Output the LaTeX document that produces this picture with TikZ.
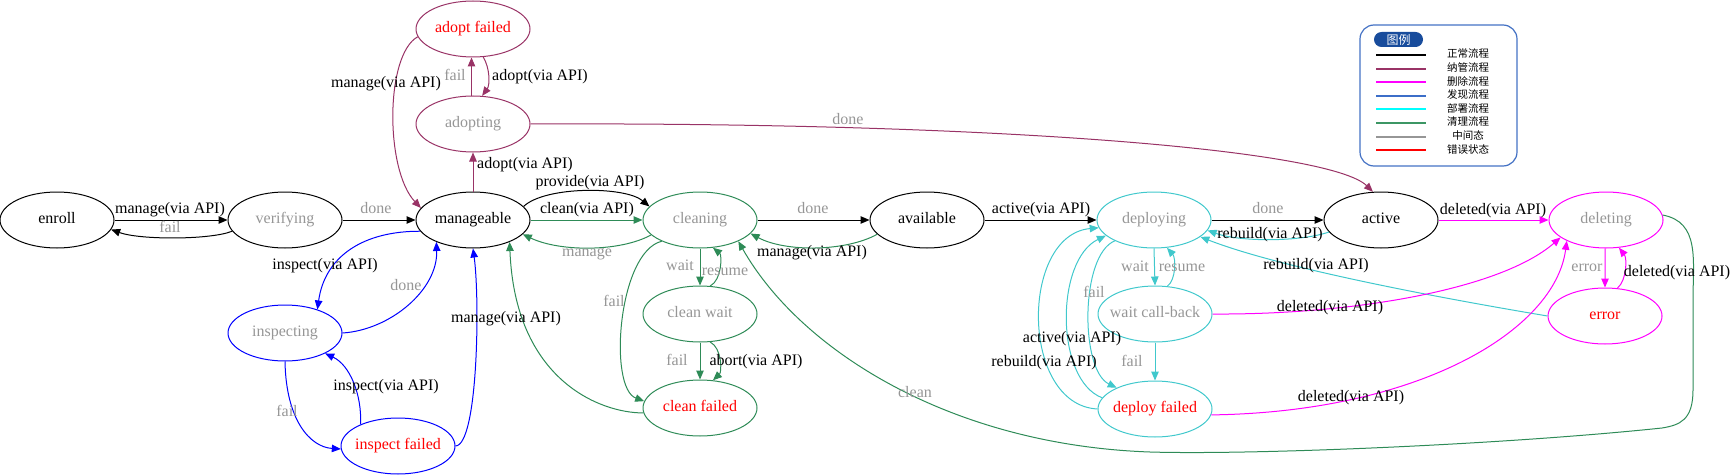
\documentclass[tikz,border=0pt]{standalone}
\usepackage{fontspec}
\setmainfont{Liberation Serif}
\newfontfamily\cjkfont{Noto Sans CJK SC}
\usetikzlibrary{shapes.geometric,arrows.meta}
\definecolor{cpurple}{RGB}{153,51,102}
\definecolor{cgreen}{RGB}{46,139,87}
\definecolor{ccyan}{RGB}{64,200,204}
\definecolor{cblue}{RGB}{0,0,255}
\definecolor{cmag}{RGB}{255,0,255}
\definecolor{cgray}{RGB}{150,150,150}
\definecolor{cred}{RGB}{255,0,0}
\definecolor{lgblue}{RGB}{60,110,200}
\definecolor{lgframe}{RGB}{68,114,196}
\definecolor{lgtitle}{RGB}{24,76,156}
\definecolor{lggreen}{RGB}{60,150,100}
\definecolor{lgcyan}{RGB}{0,255,255}
\begin{document}
\begin{tikzpicture}[x=1pt,y=-1pt,
  st/.style={ellipse, draw=#1, line width=1pt, minimum width=114pt, minimum height=56pt,
    inner sep=0pt, text height=11pt, text depth=3.5pt, font=\fontsize{16}{18}\selectfont},
  st/.default=black,
  ed/.style={draw=#1, line width=1pt, -{Triangle[length=9pt,width=7.5pt]}},
  lb/.style={font=\fontsize{16}{18}\selectfont, inner sep=0pt, text height=11pt, text depth=3.5pt},
  lg/.style={lb, text=cgray},
  lgline/.style={draw=#1, line width=2pt},
  lgtext/.style={font=\cjkfont\fontsize{10.5}{11}\selectfont, inner sep=0pt}
]
\useasboundingbox (0,0) rectangle (1731,476);

% states
\node[st=black] (enroll) at (57,220) {\makebox[0pt]{enroll}};
\node[st=black, text=cgray] (verifying) at (285,220) {\makebox[0pt]{verifying}};
\node[st=black] (manageable) at (473,220) {\makebox[0pt]{manageable}};
\node[st=cpurple, text=cgray] (adopting) at (473,124) {\makebox[0pt]{adopting}};
\node[st=cpurple, text=cred] (adoptfailed) at (473,29) {\makebox[0pt]{adopt failed}};
\node[st=cgreen, text=cgray] (cleaning) at (700,220) {\makebox[0pt]{cleaning}};
\node[st=black] (available) at (927,220) {\makebox[0pt]{available}};
\node[st=ccyan, text=cgray] (deploying) at (1154,220) {\makebox[0pt]{deploying}};
\node[st=black] (active) at (1381,220) {\makebox[0pt]{active}};
\node[st=cmag, text=cgray] (deleting) at (1606,220) {\makebox[0pt]{deleting}};
\node[st=cmag, text=cred] (error) at (1605,316) {\makebox[0pt]{error}};
\node[st=ccyan, text=cgray] (waitcb) at (1155,314) {\makebox[0pt]{wait call-back}};
\node[st=ccyan, text=cred] (deployfailed) at (1155,409) {\makebox[0pt]{deploy failed}};
\node[st=cgreen, text=cgray] (cleanwait) at (700,314) {\makebox[0pt]{clean wait}};
\node[st=cgreen, text=cred] (cleanfailed) at (700,408) {\makebox[0pt]{clean failed}};
\node[st=cblue, text=cgray] (inspecting) at (285,333) {\makebox[0pt]{inspecting}};
\node[st=cblue, text=cred] (inspectfailed) at (398,446) {\makebox[0pt]{inspect failed}};

% edges
\draw[ed=black] (enroll.0) -- (verifying.180);
\draw[ed=black] (verifying.192) .. controls (210,240) and (140,240) .. (enroll.350);
\draw[ed=black] (verifying.0) -- (manageable.180);
\draw[ed=cpurple] (manageable.90) -- (adopting.270);
\draw[ed=cpurple] (adopting.93) -- (adoptfailed.267);
\draw[ed=cpurple] (adoptfailed.290) .. controls (490,68) and (490,85) .. (adopting.72);
\draw[ed=cpurple] (adoptfailed.188) .. controls (385,55) and (385,170) .. (manageable.167);
\draw[ed=cpurple] (adopting.0) .. controls (1000,122) and (1330,150) .. (active.106);
\draw[ed=black] (manageable.15) .. controls (545,186) and (625,186) .. (cleaning.165);
\draw[ed=cgreen] (manageable.0) -- (cleaning.180);
\draw[ed=cgreen] (cleaning.197) .. controls (620,252) and (560,252) .. (manageable.344);
\draw[ed=black] (cleaning.0) -- (available.180);
\draw[ed=cgreen] (available.196) .. controls (845,252) and (785,252) .. (cleaning.345);
\draw[ed=cgreen] (cleaning.270) -- (cleanwait.90);
\draw[ed=cgreen] (cleanwait.70) .. controls (722,280) and (722,255) .. (cleaning.295);
\draw[ed=cgreen] (cleanwait.270) -- (cleanfailed.90);
\draw[ed=cgreen] (cleanwait.290) .. controls (722,348) and (722,372) .. (cleanfailed.65);
\draw[ed=cgreen] (cleaning.209) .. controls (618,252) and (608,388) .. (cleanfailed.173);
\draw[ed=cgreen] (cleanfailed.185) .. controls (600,413) and (515,380) .. (manageable.329);
\draw[ed=cgreen] (deleting.5) .. controls (1700,222) and (1693,260) .. (1693,300) -- (1693,390)
  .. controls (1693,420) and (1680,425) .. (1662,428)
  .. controls (1500,445) and (1250,455) .. (1150,452)
  .. controls (950,445) and (800,350) .. (cleaning.331);
\draw[ed=black] (available.0) -- (deploying.180);
\draw[ed=black] (deploying.0) -- (active.180);
\draw[ed=ccyan] (active.193) .. controls (1300,242) and (1240,242) .. (deploying.349);
\draw[ed=ccyan] (error.180) .. controls (1440,298) and (1280,268) .. (deploying.340);
\draw[ed=ccyan] (deploying.270) -- (waitcb.90);
\draw[ed=ccyan] (waitcb.66) .. controls (1176,280) and (1176,258) .. (deploying.295);
\draw[ed=ccyan] (waitcb.270) -- (deployfailed.90);
\draw[ed=ccyan] (deploying.208) .. controls (1080,255) and (1080,370) .. (deployfailed.151);
\draw[ed=ccyan] (deployfailed.168) .. controls (1055,380) and (1055,260) .. (deploying.198);
\draw[ed=ccyan] (deployfailed.180) .. controls (1020,405) and (1020,235) .. (deploying.188);
\draw[ed=cmag] (waitcb.0) .. controls (1350,315) and (1500,290) .. (deleting.201);
\draw[ed=cmag] (deployfailed.354) .. controls (1420,412) and (1555,330) .. (deleting.208);
\draw[ed=cmag] (active.0) -- (deleting.180);
\draw[ed=cmag] (deleting.268) -- (error.90);
\draw[ed=cmag] (error.66) .. controls (1627,280) and (1627,258) .. (deleting.295);
\draw[ed=cblue] (manageable.192) .. controls (365,231) and (325,255) .. (inspecting.36);
\draw[ed=cblue] (inspecting.0) .. controls (390,330) and (438,290) .. (manageable.211);
\draw[ed=cblue] (inspecting.270) .. controls (286,420) and (310,447) .. (inspectfailed.183);
\draw[ed=cblue] (inspectfailed.150) .. controls (362,395) and (350,365) .. (inspecting.333);
\draw[ed=cblue] (inspectfailed.0) .. controls (478,445) and (480,300) .. (manageable.270);

% edge labels
\node[lb] (l1) at (170,210) {manage(via API)};
\node[lg] (l2) at (170,229) {fail};
\node[lg] (l3) at (376,210) {done};
\node[lb] (l4) at (525,165) {adopt(via API)};
\node[lg] (l5) at (455,77) {fail};
\node[lb] (l6) at (540,77) {adopt(via API)};
\node[lb] (l7) at (386,84) {manage(via API)};
\node[lg] (l8) at (848,121) {done};
\node[lb] (l9) at (590,183) {provide(via API)};
\node[lb] (l10) at (587,210) {clean(via API)};
\node[lg] (l11) at (587,253) {manage};
\node[lg] (l12) at (813,210) {done};
\node[lb] (l13) at (812,253) {manage(via API)};
\node[lg] (l14) at (680,267) {wait};
\node[lg] (l15) at (725,272) {resume};
\node[lg] (l16) at (677,362) {fail};
\node[lb] (l17) at (756,362) {abort(via API)};
\node[lg] (l18) at (614,303) {fail};
\node[lb] (l19) at (506,319) {manage(via API)};
\node[lg] (l20) at (915,394) {clean};
\node[lb] (l21) at (1041,210) {active(via API)};
\node[lg] (l22) at (1268,210) {done};
\node[lb] (l23) at (1270,235) {rebuild(via API)};
\node[lb] (l24) at (1316,266) {rebuild(via API)};
\node[lg] (l25) at (1135,268) {wait};
\node[lg] (l26) at (1182,268) {resume};
\node[lg] (l27) at (1132,363) {fail};
\node[lg] (l28) at (1094,294) {fail};
\node[lb] (l29) at (1072,339) {active(via API)};
\node[lb] (l30) at (1044,363) {rebuild(via API)};
\node[lb] (l31) at (1330,308) {deleted(via API)};
\node[lb] (l32) at (1351,398) {deleted(via API)};
\node[lb] (l33) at (1493,211) {deleted(via API)};
\node[lg] (l34) at (1587,268) {error};
\node[lb] (l35) at (1677,273) {deleted(via API)};
\node[lb] (l36) at (325,266) {inspect(via API)};
\node[lg] (l37) at (406,287) {done};
\node[lg] (l38) at (287,413) {fail};
\node[lb] (l39) at (386,387) {inspect(via API)};

% legend
\node[draw=lgframe, line width=1.2pt, rounded corners=14pt, minimum width=157pt,
  minimum height=141pt, inner sep=0pt] (legend) at (1438.5,95.5) {};
\node[fill=lgtitle, rounded corners=7.5pt, minimum width=49pt, minimum height=15pt,
  inner sep=0pt, text=white, font=\cjkfont\fontsize{12}{12}\selectfont] (lgtitle) at (1398.5,39.5) {图例};
\draw[lgline=black] (1376,55) -- (1426,55);
\draw[lgline=cpurple] (1376,68.6) -- (1426,68.6);
\draw[lgline=cmag] (1376,82.2) -- (1426,82.2);
\draw[lgline=lgblue] (1376,95.8) -- (1426,95.8);
\draw[lgline=lgcyan] (1376,109.4) -- (1426,109.4);
\draw[lgline=lggreen] (1376,123) -- (1426,123);
\draw[lgline=cgray] (1376,136.6) -- (1426,136.6);
\draw[lgline=cred] (1376,150.2) -- (1426,150.2);
\node[lgtext] (t1) at (1468,54) {正常流程};
\node[lgtext] (t2) at (1468,67.6) {纳管流程};
\node[lgtext] (t3) at (1468,81.2) {删除流程};
\node[lgtext] (t4) at (1468,94.8) {发现流程};
\node[lgtext] (t5) at (1468,108.4) {部署流程};
\node[lgtext] (t6) at (1468,122) {清理流程};
\node[lgtext] (t7) at (1468,135.6) {中间态};
\node[lgtext] (t8) at (1468,149.2) {错误状态};
\end{tikzpicture}
\end{document}
